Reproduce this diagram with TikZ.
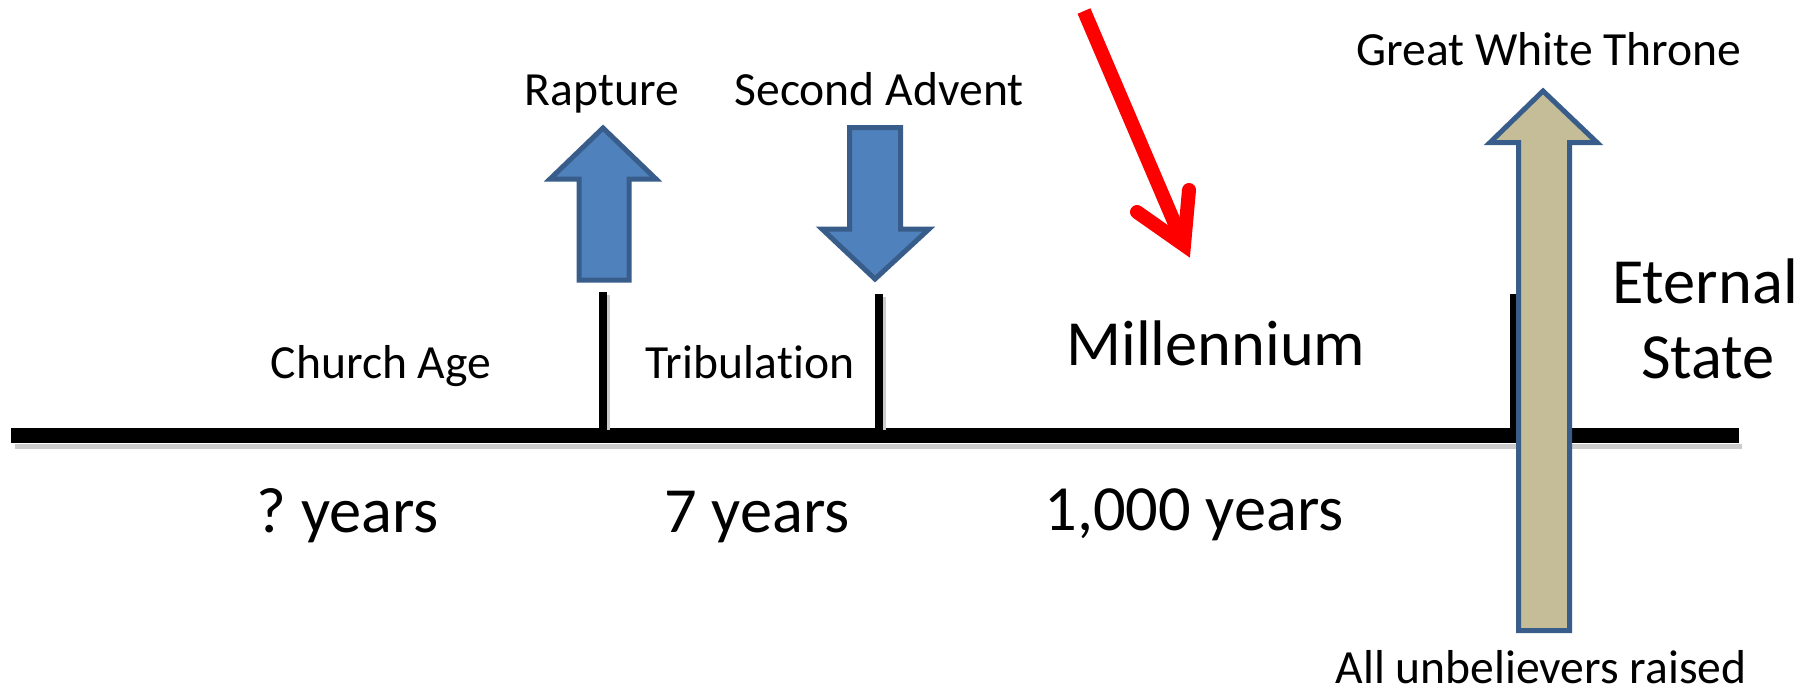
\documentclass[tikz,border=0pt]{standalone}
\usepackage{fontspec}
\setmainfont{Carlito}[Ligatures=NoCommon]
\frenchspacing
\definecolor{arrowblue}{HTML}{4F81BD}
\definecolor{arrowedge}{HTML}{385D8A}
\definecolor{thronetan}{HTML}{C4BD97}
\tikzset{
  smalltext/.style={anchor=base,inner sep=0pt,font=\fontsize{23.8}{28}\selectfont},
  bigtext/.style={anchor=base,inner sep=0pt,font=\fontsize{32.2}{38}\selectfont},
  blockarrow/.style={draw=arrowedge,line width=2.5pt,line join=miter,fill=arrowblue},
  epochtick/.style={line width=4pt},
  shade/.style={black!20}
}
\begin{document}
\begin{tikzpicture}[x=0.5pt,y=-0.5pt]
\useasboundingbox (0,0) rectangle (1808,692);
% timeline and its ticks
\draw[shade,line width=2.5pt] (15,446) -- (1742,446);
\draw[line width=7.5pt] (11,435.5) -- (1739,435.5);
\foreach \x/\t in {603/292,879/294,1514/294} {
  \draw[shade,line width=2pt] (\x+5,\t+3) -- (\x+5,430);
  \draw[epochtick] (\x,\t) -- (\x,430);
}
% block arrows
\draw[blockarrow] (603,128) -- (656,179) -- (629,179) -- (629,280)
  -- (579,280) -- (579,179) -- (550,179) -- cycle;
\draw[blockarrow] (875,279) -- (929,229) -- (900.5,229) -- (900.5,127.5)
  -- (849.5,127.5) -- (849.5,229) -- (822,229) -- cycle;
\draw[blockarrow,fill=thronetan] (1543,91) -- (1597,142.5) -- (1569.5,142.5) -- (1569.5,630.5)
  -- (1518.5,630.5) -- (1518.5,142.5) -- (1490,142.5) -- cycle;
% red pointer
\coordinate (tail) at (1084,11);
\coordinate (head) at (1184,245);
\draw[red,line width=7pt] (tail) -- (head);
\draw[red,line width=7pt,line cap=round,line join=miter,miter limit=10]
  (1137,212) -- (head) -- (1189,190);
% labels
\node[smalltext] (church) at (381,378) {Church Age};
\node[smalltext] (tribulation) at (750,378) {Tribula\kern0pt tion};
\node[smalltext] (rapture) at (602,105) {Rapture};
\node[smalltext] (advent) at (879,105) {Second Advent};
\node[smalltext] (throne) at (1549,65) {Great White Throne};
\node[smalltext] (raised) at (1541,683) {All unbelievers raised};
\node[bigtext] (millennium) at (1216,365) {Millennium};
\node[bigtext] (eternal) at (1705,303) {Eternal};
\node[bigtext] (state) at (1708,378) {State};
\node[bigtext] (qyears) at (348,532) {? years};
\node[bigtext] (sevenyears) at (757,532) {7 years};
\node[bigtext] (thousandyears) at (1194,530) {1,000 years};
\end{tikzpicture}
\end{document}
